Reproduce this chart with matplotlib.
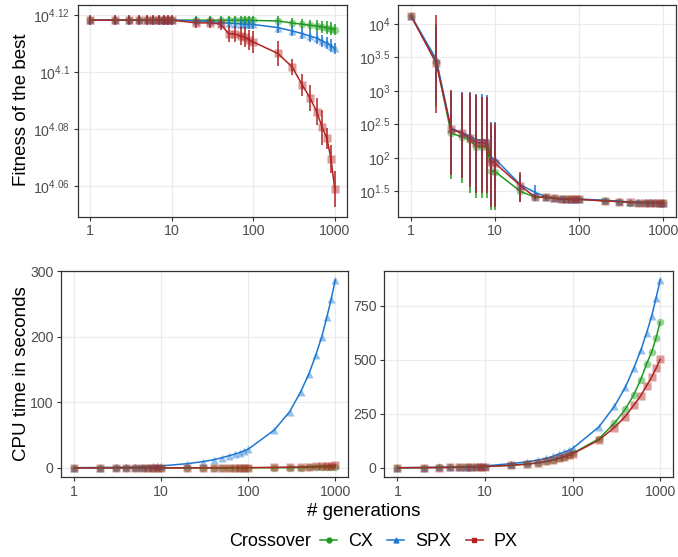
import numpy as np
import matplotlib
matplotlib.use('Agg')
import matplotlib.pyplot as plt
from matplotlib.lines import Line2D

plt.rcParams['font.family'] = ['Liberation Sans', 'DejaVu Sans']
plt.rcParams['mathtext.fontset'] = 'custom'
plt.rcParams['mathtext.rm'] = 'Liberation Sans'
plt.rcParams['mathtext.it'] = 'Liberation Sans'
plt.rcParams['mathtext.default'] = 'regular'

# generations
gens = [1, 2, 3, 4, 5, 6, 7, 8, 9, 10,
        20, 30, 40, 50, 60, 70, 80, 90, 100,
        200, 300, 400, 500, 600, 700, 800, 900, 1000]

# ---- fitness of the best, problem A (top left), mean and sd
fitA_cx = [13130, 13130, 13130, 13130, 13130, 13130, 13130, 13130, 13130, 13130,
           13130, 13130, 13130, 13129, 13129, 13128, 13128, 13127, 13127,
           13122, 13100, 13087, 13076, 13069, 13058, 13052, 13041, 13030]
sdA_cx = [45, 45, 45, 45, 45, 45, 45, 45, 45, 45,
          45, 45, 45, 45, 45, 45, 45, 45, 45,
          50, 55, 55, 60, 60, 65, 65, 70, 60]
fitA_spx = [13130, 13130, 13130, 13130, 13130, 13130, 13130, 13130, 13130, 13130,
            13122, 13116, 13105, 13097, 13094, 13090, 13087, 13087, 13084,
            13052, 13016, 12988, 12960, 12942, 12911, 12890, 12863, 12832]
sdA_spx = [45, 45, 45, 45, 45, 45, 45, 45, 45, 45,
           45, 45, 50, 50, 50, 50, 50, 50, 50,
           55, 55, 60, 60, 60, 65, 65, 65, 60]
fitA_px = [13130, 13130, 13130, 13130, 13130, 13130, 13130, 13130, 13130, 13130,
           13101, 13101, 13087, 12988, 12984, 12960, 12952, 12918, 12901,
           12781, 12643, 12458, 12325, 12192, 12039, 11933, 11732, 11451]
sdA_px = [53, 53, 53, 53, 53, 53, 53, 53, 53, 53,
          53, 53, 60, 85, 85, 95, 106, 106, 115,
          126, 80, 115, 130, 135, 170, 100, 130, 165]

# ---- fitness of the best, problem B (top right), mean and bar ends
fitB_cx = [13300, 2735, 234, 208, 186, 148, 148, 148, 64.5, 62.5,
           31.6, 25.9, 25.9, 25.0, 24.2, 24.2, 24.2, 24.2, 24.2,
           22.8, 22.3, 21.5, 21.5, 21.5, 21.5, 21.5, 21.5, 21.5]
loB_cx = [13000, 600, 48, 42, 30, 25, 25, 25, 16.5, 16.5,
          22, 24.5, 24.5, 24, 23.2, 23.2, 23.2, 23.2, 23.2,
          22, 21.6, 21, 21, 21, 21, 21, 21, 21]
hiB_cx = [13600, 10000, 900, 850, 850, 800, 800, 800, 300, 300,
          55, 27.5, 27.5, 26, 25.2, 25.2, 25.2, 25.2, 25.2,
          23.6, 23, 22, 22, 22, 22, 22, 22, 22]
fitB_spx = [13400, 2970, 277, 239, 213, 186, 186, 183, 100, 96.6,
            39.8, 30.4, 26.5, 25.4, 24.8, 24.6, 24.4, 24.4, 24.2,
            23.4, 22.6, 22.0, 21.8, 21.7, 21.6, 21.6, 21.5, 21.5]
loB_spx = [13100, 700, 60, 52, 40, 32, 32, 32, 20, 20,
           28, 23, 25, 24.4, 23.8, 23.6, 23.4, 23.4, 23.2,
           22.6, 21.9, 21.4, 21.2, 21.1, 21, 21, 21, 21]
hiB_spx = [13700, 9000, 1000, 950, 950, 900, 900, 880, 340, 340,
           58, 39, 28, 26.4, 25.8, 25.6, 25.4, 25.4, 25.2,
           24.2, 23.3, 22.6, 22.4, 22.3, 22.2, 22.2, 22, 22]
fitB_px = [13300, 2590, 268, 234, 197, 169, 169, 166, 88, 83.4,
           38.5, 25.9, 25.9, 25.0, 24.2, 24.2, 24.2, 24.0, 24.0,
           22.8, 22.3, 21.8, 21.5, 21.5, 21.5, 21.5, 21.5, 21.5]
loB_px = [13000, 470, 55.7, 49.8, 37.3, 29.7, 29.7, 29.7, 18.7, 18.7,
          22.3, 24.5, 24.5, 24, 23.3, 23.3, 23.3, 23.1, 23.1,
          22, 21.6, 21.2, 21, 21, 21, 21, 21, 21]
hiB_px = [13600, 13600, 1035, 925, 925, 871, 822, 822, 330, 330,
          62.5, 27.5, 27.5, 26, 25.2, 25.2, 25.2, 25, 25,
          23.6, 23, 22.4, 22, 22, 22, 22, 22, 22]

# ---- CPU time in seconds, problem A (bottom left)
cpuA_cx = [0.0, 0.0, 0.0, 0.0, 0.0, 0.0, 0.0, 0.0, 0.0, 0.0,
           0.0, 0.0, 0.1, 0.1, 0.1, 0.1, 0.1, 0.1, 0.2,
           0.3, 0.4, 0.6, 0.7, 0.9, 1.0, 1.2, 1.4, 1.5]
cpuA_spx = [0.3, 0.6, 0.9, 1.2, 1.5, 1.8, 2.1, 2.4, 2.7, 3.0,
            6.5, 9.5, 12.5, 15.5, 18.5, 21.0, 23.5, 26.0, 28.5,
            58, 86, 116, 144, 173, 200, 230, 258, 287]
cpuA_px = [0.0, 0.0, 0.0, 0.0, 0.0, 0.0, 0.0, 0.0, 0.0, 0.0,
           0.1, 0.1, 0.2, 0.2, 0.2, 0.3, 0.3, 0.4, 0.4,
           0.8, 1.2, 1.6, 2.0, 2.4, 2.8, 3.2, 3.6, 4.0]

# ---- CPU time in seconds, problem B (bottom right)
cpuB_cx = [0.7, 1.3, 2.0, 2.6, 3.3, 3.9, 4.6, 5.2, 5.9, 6.5,
           12, 19, 23, 30, 36, 44, 51, 58, 67,
           135, 207, 272, 339, 409, 482, 537, 603, 676]
cpuB_spx = [0.9, 1.8, 2.7, 3.6, 4.5, 5.4, 6.3, 7.2, 8.1, 9.0,
            20, 28, 36, 44, 54, 65, 73, 81, 90,
            190, 285, 373, 462, 544, 625, 703, 788, 871]
cpuB_px = [0.6, 1.2, 1.8, 2.4, 3.0, 3.6, 4.2, 4.8, 5.4, 6.0,
           12, 17, 23, 30, 36, 44, 51, 58, 65,
           129, 187, 238, 291, 334, 381, 420, 462, 502]

labels = ['CX', 'SPX', 'PX']
colors = ['#1E9B1E', '#1C77D2', '#B22222']
markers = ['o', '^', 's']

W, H = 678, 557
fig = plt.figure(figsize=(W / 100, H / 100), dpi=100)


def box(l, t, r, b):
    return [l / W, 1 - b / H, (r - l) / W, (b - t) / H]


def style(ax, yticks, ylabels):
    ax.set_xscale('log')
    ax.set_xlim(10 ** -0.15, 10 ** 3.15)
    ax.set_xticks([1, 10, 100, 1000])
    ax.set_xticklabels(['1', '10', '100', '1000'])
    ax.set_yticks(yticks)
    ax.set_yticklabels(ylabels)
    ax.minorticks_off()
    ax.grid(True, color='#EBEBEB', linewidth=0.9)
    ax.set_axisbelow(True)
    for s in ax.spines.values():
        s.set_color('#333333')
        s.set_linewidth(0.9)
    ax.tick_params(colors='#333333', labelcolor='#4D4D4D', labelsize=10.2,
                   length=3, width=0.8, pad=2.5)


def draw(ax, ys):
    for y, c, m in zip(ys, colors, markers):
        ax.plot(gens, y, color=c, lw=1.1, zorder=3)
        ax.plot(gens, y, linestyle='none', marker=m, color=c, ms=5.5,
                alpha=0.45, mec='none', zorder=4)


# top left
ax1 = fig.add_axes(box(77.7, 5, 347, 216.7))
ax1.set_yscale('log')
draw(ax1, [fitA_cx, fitA_spx, fitA_px])
for y, sd, c in zip([fitA_cx, fitA_spx, fitA_px], [sdA_cx, sdA_spx, sdA_px], colors):
    ax1.errorbar(gens, y, yerr=sd, fmt='none', ecolor=c, elinewidth=1.1,
                 capsize=0, zorder=5)
ax1.set_ylim(10 ** 4.0491, 10 ** 4.1236)
style(ax1, [10 ** 4.06, 10 ** 4.08, 10 ** 4.1, 10 ** 4.12],
      ['$10^{4.06}$', '$10^{4.08}$', '$10^{4.1}$', '$10^{4.12}$'])

# top right
ax2 = fig.add_axes(box(398.3, 5, 676, 216.7))
ax2.set_yscale('log')
draw(ax2, [fitB_cx, fitB_spx, fitB_px])
for y, lo, hi, c in zip([fitB_cx, fitB_spx, fitB_px], [loB_cx, loB_spx, loB_px],
                        [hiB_cx, hiB_spx, hiB_px], colors):
    ax2.vlines(gens, lo, hi, color=c, lw=1.1, zorder=5)
ax2.set_ylim(10 ** 1.122, 10 ** 4.284)
style(ax2, [10 ** 1.5, 10 ** 2, 10 ** 2.5, 10 ** 3, 10 ** 3.5, 10 ** 4],
      ['$10^{1.5}$', '$10^{2}$', '$10^{2.5}$', '$10^{3}$', '$10^{3.5}$', '$10^{4}$'])

# bottom left
ax3 = fig.add_axes(box(61, 270.5, 348.3, 477.3))
draw(ax3, [cpuA_cx, cpuA_spx, cpuA_px])
ax3.set_ylim(-14.35, 301.4)
style(ax3, [0, 100, 200, 300], ['0', '100', '200', '300'])

# bottom right
ax4 = fig.add_axes(box(384.3, 270.5, 673.3, 477.3))
draw(ax4, [cpuB_cx, cpuB_spx, cpuB_px])
ax4.set_ylim(-43.5, 914)
style(ax4, [0, 250, 500, 750], ['0', '250', '500', '750'])

# titles
fig.text(22 / W, 1 - 110 / H, 'Fitness of the best', rotation=90,
         ha='center', va='center', fontsize=13.5)
fig.text(22 / W, 1 - 374 / H, 'CPU time in seconds', rotation=90,
         ha='center', va='center', fontsize=13.5)
fig.text(364 / W, 1 - 516 / H, '# generations', ha='center', va='baseline',
         fontsize=13.5)

# legend
fig.text(311 / W, 1 - 542 / H, 'Crossover', ha='right', va='center', fontsize=13)
handles = [Line2D([], [], color=c, marker=m, ms=3.5, lw=1.1)
           for c, m in zip(colors, markers)]
fig.legend(handles, labels, loc='center left', bbox_to_anchor=(320 / W, 1 - 542 / H),
           ncol=3, frameon=False, fontsize=13, handlelength=0.95,
           handletextpad=0.6, columnspacing=0.8, borderpad=0, borderaxespad=0)

fig.savefig('out.png', dpi=100)
plt.close()
